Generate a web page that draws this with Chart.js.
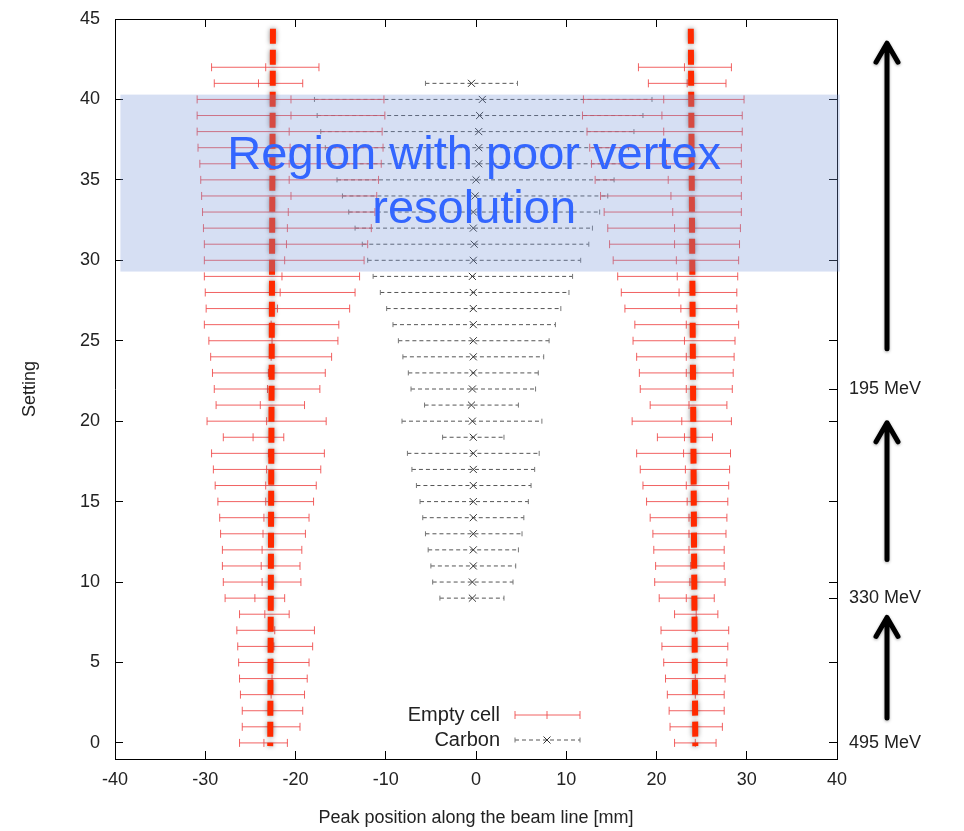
<!DOCTYPE html>
<html>
<head>
<meta charset="utf-8">
<script src="https://cdn.jsdelivr.net/npm/chart.js@4.4.0/dist/chart.umd.min.js"></script>
<style>
html,body{margin:0;padding:0;background:#fff;}
</style>
</head>
<body>
<canvas id="myChart" width="964" height="831"></canvas>
<script>
// ---- data ----
var settings = [0,1,2,3,4,5,6,7,8,9,10,11,12,13,14,15,16,17,18,19,20,21,22,23,24,25,26,27,28,29,30,31,32,33,34,35,36,37,38,39,40,41,42];

// empty cell, left peak (low end, centre, high end)
var emptyLeftLo  = [-26.2,-25.9,-25.9,-26.1,-26.2,-26.3,-26.4,-26.5,-26.2,-27.8,-28.0,-28.1,-28.1,-28.3,-28.4,-28.6,-28.9,-29.1,-29.3,-28.0,-29.8,-28.8,-29.0,-29.2,-29.4,-29.6,-30.1,-29.9,-30.0,-30.1,-30.1,-30.1,-30.2,-30.3,-30.4,-30.5,-30.6,-30.8,-30.9,-30.9,-30.9,-29.0,-29.3];
var emptyLeftMid = [-23.5,-22.7,-22.6,-22.7,-22.6,-22.6,-22.4,-22.3,-23.4,-24.5,-23.7,-23.8,-23.7,-23.6,-23.5,-23.3,-23.3,-23.2,-23.0,-24.7,-23.2,-23.9,-23.1,-23.0,-22.7,-22.6,-22.7,-22.0,-21.7,-21.5,-21.2,-21.0,-20.9,-20.8,-20.5,-20.7,-20.7,-20.6,-20.7,-20.5,-20.5,-24.1,-23.3];
var emptyLeftHi  = [-20.9,-19.5,-19.2,-19.0,-18.7,-18.5,-18.1,-17.9,-20.7,-21.2,-19.4,-19.5,-19.3,-18.9,-18.5,-18.0,-17.7,-17.2,-16.8,-21.3,-16.6,-19.0,-17.3,-16.7,-16.0,-15.3,-15.2,-14.0,-13.4,-12.9,-12.4,-12.0,-11.6,-11.2,-11.0,-10.8,-10.5,-10.3,-10.4,-10.1,-10.2,-19.2,-17.4];

// empty cell, right peak
var emptyRightLo  = [22.0,21.5,21.4,21.2,21.0,20.8,20.6,20.5,22.0,20.3,19.8,19.9,19.7,19.6,19.3,18.9,18.5,18.2,17.8,20.1,17.3,19.3,18.2,18.1,17.8,17.4,17.6,16.5,16.1,15.7,15.2,14.8,14.6,14.2,13.8,13.2,12.8,12.6,12.3,11.8,11.9,19.1,18.0];
var emptyRightMid = [24.3,24.3,24.3,24.3,24.3,24.3,24.2,24.3,24.4,23.3,23.7,23.8,23.6,23.6,23.6,23.4,23.3,23.2,23.0,23.1,22.8,23.6,23.3,23.3,23.3,23.1,23.3,22.7,22.5,22.3,22.2,22.0,22.0,21.8,21.6,21.3,21.1,21.0,20.8,20.6,20.8,23.4,23.1];
var emptyRightHi  = [26.6,27.3,27.5,27.5,27.6,27.8,27.9,28.0,26.8,26.4,27.6,27.5,27.5,27.7,27.8,27.9,28.0,28.1,28.2,26.2,28.3,27.8,28.4,28.5,28.6,28.7,29.1,28.9,28.9,29.0,29.1,29.2,29.3,29.4,29.4,29.4,29.4,29.4,29.5,29.5,29.7,27.7,28.3];

// carbon
var carbonSettings = [9,10,11,12,13,14,15,16,17,18,19,20,21,22,23,24,25,26,27,28,29,30,31,32,33,34,35,36,37,38,39,40,41];
var carbonLo  = [-4.0,-4.8,-5.0,-5.3,-5.6,-5.9,-6.2,-6.6,-7.1,-7.6,-3.7,-8.2,-5.7,-7.2,-7.5,-8.1,-8.6,-9.2,-9.9,-10.6,-11.4,-12.0,-12.6,-13.4,-14.1,-14.8,-15.4,-16.0,-16.7,-17.2,-17.6,-17.9,-5.6];
var carbonMid = [-0.4,-0.4,-0.3,-0.3,-0.3,-0.3,-0.3,-0.3,-0.3,-0.3,-0.3,-0.4,-0.5,-0.4,-0.3,-0.3,-0.3,-0.3,-0.3,-0.3,-0.4,-0.3,-0.2,-0.3,-0.3,-0.1,0.0,0.3,0.3,0.3,0.4,0.7,-0.5];
var carbonHi  = [3.1,4.1,4.4,4.7,5.1,5.3,5.8,6.1,6.5,7.0,3.1,7.3,4.7,6.6,6.9,7.5,8.1,8.8,9.4,10.3,10.7,11.6,12.5,12.9,13.7,14.6,15.3,16.1,16.9,17.5,18.5,19.5,4.6];

// axis ticks
var xTicks = [-40,-30,-20,-10,0,10,20,30,40];
var yTicks = [0,5,10,15,20,25,30,35,40,45];
var energyAt = [22, 9, 0];
var energyLabels = ['195 MeV','330 MeV','495 MeV'];

// annotations
var peakLineTopY = 44.4, peakLineBottomY = -0.2;
var peakLineTopX = [-22.5, 23.8];
var peakLineBottomX = [-22.8, 24.3];
var regionX = [-39.4, 40.3];
var regionY = [29.3, 40.3];
var regionText = ['Region with poor vertex', 'resolution'];
var regionTextY = [36.5, 33.1];
var arrowTail = [24.5, 11.4, 1.55];
var arrowTip = [43.5, 19.9, 7.8];

var FONT = "'Liberation Sans', Arial, sans-serif";
var RED = 'rgba(238,70,70,0.85)';

function bars(ys, lo, mid, hi){
    var out = [];
    for (var i = 0; i < ys.length; i++) {
        out.push({x:lo[i], y:ys[i]}, {x:mid[i], y:ys[i]}, {x:hi[i], y:ys[i]}, {x:null, y:null});
    }
    return out;
}

var emptyData = bars(settings, emptyLeftLo, emptyLeftMid, emptyLeftHi)
    .concat(bars(settings, emptyRightLo, emptyRightMid, emptyRightHi));
var carbonData = bars(carbonSettings, carbonLo, carbonMid, carbonHi);

// right axis: mirror ticks plus the beam energy marks (no duplicates)
var allY = yTicks.concat(energyAt.filter(function(v){ return yTicks.indexOf(v) < 0; }))
    .sort(function(a,b){return a-b;});

function gridOpts(){
    return {drawOnChartArea:false, drawTicks:true, tickLength:-8, color:'#000', lineWidth:1};
}

/*---- annotation plugin: peak lines, shaded region, arrows, legend ----*/
var extras = {
    id: 'extras',
    afterDatasetsDraw: function(chart){
        var ctx = chart.ctx, xs = chart.scales.x, ys = chart.scales.y;
        // thick dashed peak lines
        ctx.save();
        ctx.strokeStyle = '#ff2a00';
        ctx.lineWidth = 6;
        ctx.setLineDash([15,6]);
        ctx.shadowColor = 'rgba(0,0,0,0.45)';
        ctx.shadowBlur = 5;
        for (var i = 0; i < 2; i++) {
            ctx.beginPath();
            ctx.moveTo(xs.getPixelForValue(peakLineTopX[i]), ys.getPixelForValue(peakLineTopY));
            ctx.lineTo(xs.getPixelForValue(peakLineBottomX[i]), ys.getPixelForValue(peakLineBottomY));
            ctx.stroke();
        }
        ctx.restore();
        // shaded region
        ctx.save();
        var x0 = xs.getPixelForValue(regionX[0]), x1 = xs.getPixelForValue(regionX[1]);
        var y0 = ys.getPixelForValue(regionY[1]), y1 = ys.getPixelForValue(regionY[0]);
        ctx.fillStyle = 'rgba(120,150,215,0.3)';
        ctx.fillRect(x0, y0, x1 - x0, y1 - y0);
        ctx.fillStyle = '#3366ff';
        ctx.font = '47px ' + FONT;
        ctx.textAlign = 'center';
        ctx.textBaseline = 'middle';
        for (var k = 0; k < regionText.length; k++) {
            ctx.fillText(regionText[k], xs.getPixelForValue(-0.2), ys.getPixelForValue(regionTextY[k]));
        }
        ctx.restore();
    },
    afterDraw: function(chart){
        var ctx = chart.ctx, ys = chart.scales.y, area = chart.chartArea;
        // arrows on the right
        ctx.save();
        ctx.strokeStyle = '#000';
        ctx.lineWidth = 5;
        ctx.lineCap = 'round';
        ctx.lineJoin = 'round';
        ctx.shadowColor = 'rgba(0,0,0,0.35)';
        ctx.shadowBlur = 3;
        ctx.shadowOffsetY = 1;
        var ax = area.right + 50;
        for (var i = 0; i < arrowTail.length; i++) {
            var yt = ys.getPixelForValue(arrowTail[i]), yh = ys.getPixelForValue(arrowTip[i]);
            ctx.beginPath();
            ctx.moveTo(ax, yt);
            ctx.lineTo(ax, yh + 2);
            ctx.moveTo(ax - 11, yh + 19);
            ctx.lineTo(ax, yh);
            ctx.lineTo(ax + 11, yh + 19);
            ctx.stroke();
        }
        ctx.restore();

        // gnuplot style key
        ctx.save();
        ctx.font = '20px ' + FONT;
        ctx.fillStyle = '#222';
        ctx.textAlign = 'right';
        ctx.textBaseline = 'middle';
        var lx = 500, s0 = 515, s1 = 580, sm = 547, r1 = 715, r2 = 740;
        ctx.fillText('Empty cell', lx, r1);
        ctx.fillText('Carbon', lx, r2);
        ctx.strokeStyle = RED;
        ctx.lineWidth = 1;
        ctx.beginPath();
        ctx.moveTo(s0, r1); ctx.lineTo(s1, r1);
        [s0, sm, s1].forEach(function(p){ ctx.moveTo(p, r1-4); ctx.lineTo(p, r1+4); });
        ctx.stroke();
        ctx.strokeStyle = '#555';
        ctx.setLineDash([4,3]);
        ctx.beginPath();
        ctx.moveTo(s0, r2); ctx.lineTo(s1, r2);
        ctx.stroke();
        ctx.setLineDash([]);
        ctx.strokeStyle = '#777';
        ctx.beginPath();
        [s0, s1].forEach(function(p){ ctx.moveTo(p, r2-2.5); ctx.lineTo(p, r2+2.5); });
        ctx.stroke();
        ctx.strokeStyle = '#333';
        ctx.beginPath();
        ctx.moveTo(sm-3.5, r2-3.5); ctx.lineTo(sm+3.5, r2+3.5);
        ctx.moveTo(sm-3.5, r2+3.5); ctx.lineTo(sm+3.5, r2-3.5);
        ctx.stroke();
        ctx.restore();
    }
};

function isMid(c){ return c.dataIndex % 4 === 1; }

// vertical axes: fixed width, and keep the tick padding from pushing the plot down
function fixVertical(w){
    return function(s){ s.width = w; s.paddingTop = 8; s.paddingBottom = 8; };
}

var ctx = document.getElementById('myChart').getContext('2d');
var chart = new Chart(ctx, {
    type: 'scatter',
    data: {
        datasets: [{
            label: 'Empty cell',
            data: emptyData,
            showLine: true,
            spanGaps: false,
            borderColor: RED,
            borderWidth: 1,
            pointStyle: 'line',
            pointRotation: 90,
            pointRadius: 4,
            pointBorderColor: RED,
            pointBorderWidth: 1,
            pointHoverRadius: 4
        },
        {
            label: 'Carbon',
            data: carbonData,
            showLine: true,
            spanGaps: false,
            borderColor: '#555',
            borderWidth: 1,
            borderDash: [4,3],
            pointStyle: function(c){ return isMid(c) ? 'crossRot' : 'line'; },
            pointRotation: function(c){ return isMid(c) ? 0 : 90; },
            pointRadius: function(c){ return isMid(c) ? 5 : 2.5; },
            pointBorderColor: function(c){ return isMid(c) ? '#333' : '#777'; },
            pointBorderWidth: 1
        }]
    },
    options: {
        responsive: false,
        animation: false,
        devicePixelRatio: 1,
        layout: {padding: 0},
        plugins: {
            legend: {display: false},
            tooltip: {enabled: false}
        },
        scales: {
            x: {
                type: 'linear', position: 'bottom', min: -40, max: 40,
                afterBuildTicks: function(s){ s.ticks = xTicks.map(function(v){ return {value:v}; }); },
                afterFit: function(s){ s.height = 72; },
                ticks: {font: {size: 18, family: FONT}, color: '#222', padding: 18, maxRotation: 0},
                grid: gridOpts(),
                border: {color: '#000', width: 1},
                title: {display: true, text: 'Peak position along the beam line [mm]', font: {size: 18, family: FONT}, color: '#222', padding: {top: 0, bottom: 2}}
            },
            x2: {
                type: 'linear', position: 'top', min: -40, max: 40,
                afterBuildTicks: function(s){ s.ticks = xTicks.map(function(v){ return {value:v}; }); },
                afterFit: function(s){ s.height = 19; },
                ticks: {display: false},
                grid: gridOpts(),
                border: {color: '#000', width: 1}
            },
            y: {
                type: 'linear', position: 'left', min: -1, max: 45,
                afterBuildTicks: function(s){ s.ticks = yTicks.map(function(v){ return {value:v}; }); },
                afterFit: fixVertical(115),
                ticks: {font: {size: 18, family: FONT}, color: '#222', padding: 23},
                grid: gridOpts(),
                border: {color: '#000', width: 1},
                title: {display: true, text: 'Setting', font: {size: 18, family: FONT}, color: '#222', padding: {top: 19, bottom: 0}}
            },
            y2: {
                type: 'linear', position: 'right', min: -1, max: 45,
                afterBuildTicks: function(s){ s.ticks = allY.map(function(v){ return {value:v}; }); },
                afterFit: fixVertical(127),
                ticks: {
                    font: {size: 18, family: FONT}, color: '#222', padding: 20, autoSkip: false,
                    callback: function(v){ var k = energyAt.indexOf(v); return k >= 0 ? energyLabels[k] : ''; }
                },
                grid: gridOpts(),
                border: {color: '#000', width: 1}
            }
        }
    },
    plugins: [extras]
});
</script>
</body>
</html>
